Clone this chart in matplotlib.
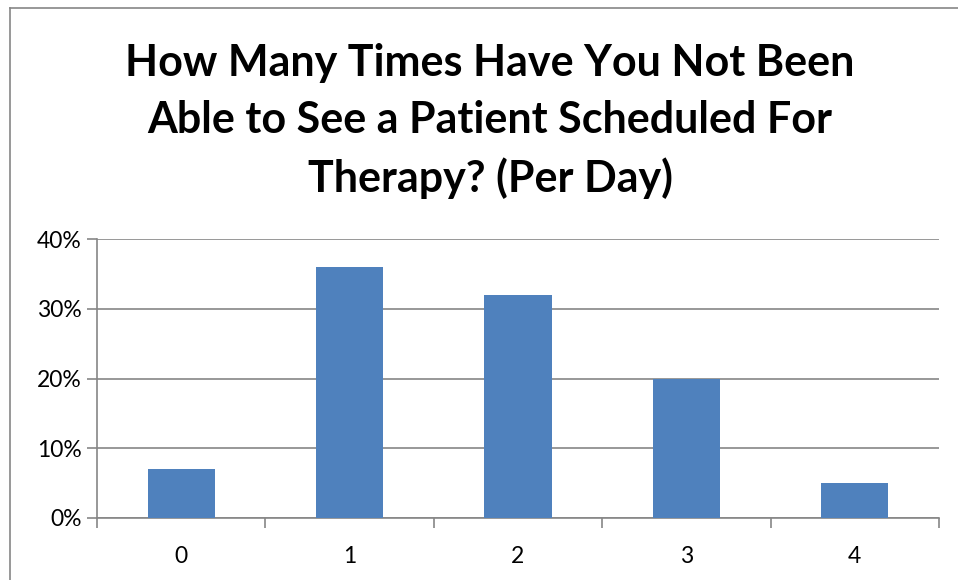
import matplotlib
matplotlib.use('Agg')
import matplotlib.pyplot as plt
from matplotlib.lines import Line2D
from matplotlib.ticker import FuncFormatter

categories = ['0', '1', '2', '3', '4']
percent = [7, 36, 32, 20, 5]
y_ticks = [0, 10, 20, 30, 40]

title = 'How Many Times Have You Not Been\nAble to See a Patient Scheduled For\nTherapy? (Per Day)'

W, H = 958, 580
fig = plt.figure(figsize=(W / 100, H / 100), dpi=100)
fig.patch.set_facecolor('white')

# chart area border (left and top visible only)
fig.add_artist(Line2D([10 / W, 10 / W], [0, 1 - 8 / H], color='#868686', lw=1.2))
fig.add_artist(Line2D([10 / W, 1], [1 - 8 / H, 1 - 8 / H], color='#868686', lw=1.2))

left, right, top, bottom = 97, 939, 239, 518
ax = fig.add_axes([left / W, 1 - bottom / H, (right - left) / W, (bottom - top) / H])

x = list(range(len(categories)))
ax.bar(x, percent, width=0.4, color='#4F81BD', zorder=3)

ax.set_xlim(-0.5, len(categories) - 0.5)
ax.set_ylim(0, 40)
ax.set_yticks(y_ticks)
ax.yaxis.set_major_formatter(FuncFormatter(lambda v, p: f'{v:.0f}%'))
ax.set_xticks(x)
ax.set_xticklabels(categories)
ax.set_xticks([i - 0.5 for i in range(len(categories) + 1)], minor=True)

ax.grid(axis='y', color='#868686', lw=1.2, zorder=0)
for s in ['top', 'right']:
    ax.spines[s].set_visible(False)
for s in ['left', 'bottom']:
    ax.spines[s].set_color('#868686')
    ax.spines[s].set_linewidth(1.2)

ax.tick_params(axis='y', length=7, color='#868686', width=1.2, labelsize=16.5, pad=4)
ax.tick_params(axis='x', which='major', length=0, labelsize=16.5, pad=20)
ax.tick_params(axis='x', which='minor', length=7, color='#868686', width=1.2)
for lab in ax.get_xticklabels() + ax.get_yticklabels():
    lab.set_fontfamily('Lato')

fig.text(490 / W, 1 - 121 / H, title, ha='center', va='center',
         fontsize=31, fontweight='bold', family='Lato', linespacing=1.5)

fig.savefig('out.png', dpi=100)
